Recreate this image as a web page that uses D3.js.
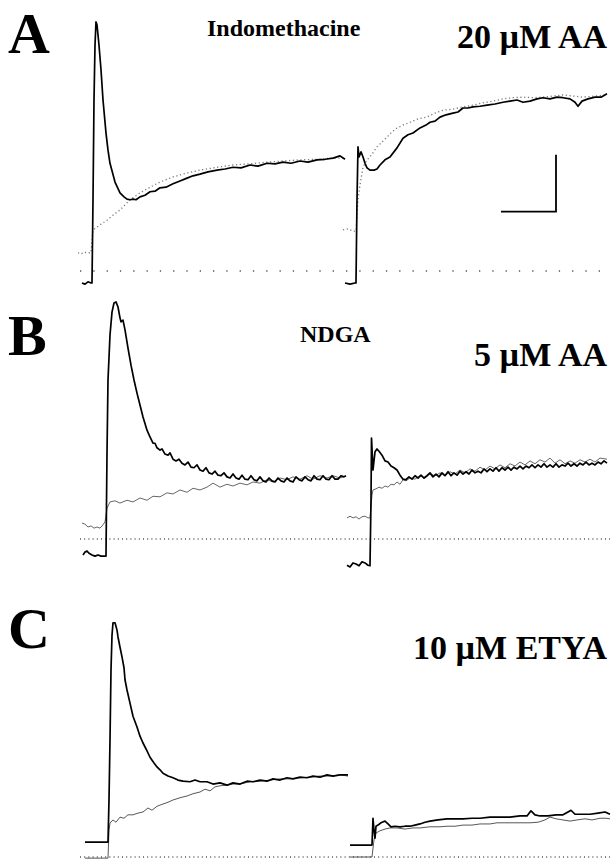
<!DOCTYPE html>
<html>
<head>
<script src="https://cdnjs.cloudflare.com/ajax/libs/d3/7.8.5/d3.min.js"></script>
<style>
  body { margin: 0; background: #fff; }
  svg text { font-family: "Liberation Serif", "Times New Roman", serif; font-weight: bold; fill: #000; }
</style>
</head>
<body>
<svg id="fig" width="612" height="860"></svg>
<script>
// time in s, current in nA (0 = dotted baseline)
var panelLetters = ["A", "B", "C"];
var drugLabels = ["Indomethacine", "NDGA", ""];
var doseLabels = ["20 \u00b5M AA", "5 \u00b5M AA", "10 \u00b5M ETYA"];

// ---- A ----
var aSolidL = [[0.4,-0.21],[1.0,-0.23],[1.6,-0.19],[2.2,-0.21],[2.4,-0.21],[2.6,1.25],[2.8,3.0],[3.0,3.96],[3.2,4.37],[3.4,4.32],[3.8,3.96],[4.2,3.53],[4.6,3.0],[5.2,2.42],[5.6,2.12],[6.0,1.89],[7.0,1.56],[8.0,1.37],[8.8,1.30],[9.4,1.26],[10.0,1.25],[10.6,1.26],[11.2,1.25],[12.0,1.30],[13.0,1.33],[14.0,1.39],[15.0,1.40],[16.0,1.46],[17.2,1.47],[18.6,1.53],[20.0,1.58],[21.4,1.63],[22.6,1.67],[24.0,1.70],[25.6,1.74],[27.4,1.77],[29.0,1.79],[30.6,1.82],[32.2,1.81],[34.0,1.86],[35.6,1.84],[37.4,1.89],[39.0,1.88],[40.6,1.91],[42.2,1.89],[44.0,1.93],[45.6,1.91],[47.4,1.95],[49.0,1.96],[50.6,1.98],[52.0,2.02],[53.0,1.96]];
var aCtrlL = [[-0.4,0.32],[0.2,0.30],[0.8,0.33],[1.6,0.32],[2.2,0.32],[2.4,0.54],[2.6,0.72],[4.0,0.81],[5.4,0.89],[6.6,0.98],[8.0,1.07],[9.0,1.16],[10.0,1.25],[12.0,1.37],[14.0,1.47],[16.0,1.56],[18.6,1.65],[21.4,1.72],[24.0,1.77],[27.4,1.82],[30.6,1.86],[34.0,1.88],[37.4,1.91],[40.6,1.93],[44.0,1.95],[47.4,1.96],[50.6,1.98],[53.0,1.98]];
var aSolidR = [[53.0,-0.21],[54.0,-0.23],[55.0,-0.21],[55.2,-0.21],[55.4,1.25],[55.6,2.18],[55.8,2.0],[56.2,2.09],[56.6,2.0],[57.0,1.89],[57.4,1.81],[58.0,1.77],[58.8,1.77],[59.4,1.79],[60.0,1.86],[61.0,1.95],[62.0,2.0],[63.4,2.16],[64.6,2.33],[65.6,2.39],[66.6,2.42],[68.0,2.51],[69.2,2.56],[70.0,2.61],[71.0,2.63],[72.0,2.70],[73.2,2.74],[74.6,2.77],[75.6,2.79],[76.6,2.86],[77.6,2.86],[78.6,2.88],[80.0,2.89],[81.4,2.91],[83.0,2.93],[84.6,2.96],[86.0,2.98],[87.4,3.0],[88.6,2.96],[90.0,2.98],[91.4,3.02],[92.6,3.04],[94.0,3.02],[95.4,3.05],[96.6,3.04],[98.0,3.02],[99.0,2.96],[99.6,2.89],[100.4,2.98],[101.6,3.02],[103.0,3.05],[104.2,3.05],[105.4,3.11]];
var aCtrlR = [[52.6,0.72],[53.6,0.74],[54.6,0.70],[55.2,0.70],[55.6,1.25],[56.0,1.51],[56.6,1.82],[57.4,1.95],[58.0,2.0],[59.4,2.18],[60.4,2.26],[61.4,2.35],[62.4,2.44],[63.4,2.51],[64.6,2.56],[66.0,2.61],[67.6,2.67],[69.4,2.70],[71.0,2.77],[72.6,2.82],[74.6,2.84],[76.6,2.88],[78.6,2.91],[80.6,2.95],[82.6,2.98],[84.6,3.02],[86.6,3.04],[88.6,3.05],[90.6,3.04],[92.6,3.05],[94.6,3.07],[96.6,3.09],[98.6,3.07],[100.6,3.05],[103.0,3.07],[105.4,3.09]];

// ---- B ----
var bSolidL = [[0.6,-0.28],[1.0,-0.23],[1.4,-0.21],[1.8,-0.25],[2.4,-0.28],[3.0,-0.30],[3.6,-0.28],[4.2,-0.30],[4.8,-0.30],[5.2,-0.30],[5.4,1.51],[5.6,2.79],[6.0,3.58],[6.4,3.98],[6.8,4.14],[7.2,4.16],[7.6,4.07],[8.0,3.88],[8.2,3.81],[8.6,3.84],[9.0,3.67],[9.6,3.35],[10.2,3.05],[10.8,2.79],[11.4,2.56],[12.0,2.35],[12.6,2.14],[13.4,1.91],[14.0,1.79],[14.6,1.68],[15.0,1.68],[15.4,1.60],[16.0,1.56],[16.4,1.58],[17.0,1.49],[17.6,1.47],[18.0,1.51],[18.6,1.40],[19.2,1.37],[19.8,1.40],[20.4,1.33],[21.0,1.30],[21.6,1.35],[22.2,1.26],[22.8,1.25],[23.4,1.30],[24.0,1.21],[24.6,1.19],[25.2,1.25],[25.8,1.16],[26.4,1.14],[27.0,1.19],[27.6,1.12],[28.2,1.11],[28.8,1.16],[29.4,1.09],[30.0,1.07],[30.6,1.14],[31.2,1.07],[31.8,1.05],[32.4,1.12],[33.0,1.05],[33.6,1.04],[34.2,1.11],[34.8,1.04],[35.4,1.02],[36.0,1.09],[36.6,1.02],[37.2,1.0],[37.8,1.07],[38.4,1.02],[39.0,1.0],[39.6,1.07],[40.2,1.02],[40.8,1.0],[41.4,1.07],[42.0,1.02],[42.6,1.0],[43.2,1.09],[43.8,1.04],[44.4,1.02],[45.0,1.09],[45.6,1.04],[46.2,1.02],[46.8,1.11],[47.4,1.05],[48.0,1.04],[48.6,1.11],[49.2,1.05],[49.8,1.04],[50.4,1.11],[51.0,1.05],[51.6,1.05],[52.2,1.11],[52.8,1.09],[53.2,1.11]];
var bCtrlL = [[0.4,0.28],[1.0,0.26],[1.6,0.21],[2.2,0.23],[2.8,0.19],[3.4,0.21],[4.0,0.19],[4.6,0.25],[5.0,0.30],[5.4,0.54],[6.0,0.65],[7.0,0.67],[8.0,0.63],[9.4,0.68],[10.6,0.65],[12.0,0.72],[13.4,0.68],[14.6,0.75],[16.0,0.74],[17.4,0.81],[18.6,0.79],[20.0,0.86],[21.4,0.82],[22.6,0.89],[24.0,0.86],[25.4,0.91],[26.6,0.98],[28.0,0.91],[29.4,0.96],[30.6,0.93],[32.0,0.98],[33.4,0.95],[34.6,1.0],[36.0,0.98],[37.4,1.04],[38.6,1.0],[40.0,1.07],[41.4,1.04],[42.6,1.09],[44.0,1.05],[45.4,1.11],[46.6,1.05],[48.0,1.11],[49.4,1.07],[50.6,1.11],[52.0,1.07],[53.2,1.11]];
var bSolidR = [[53.4,-0.46],[54.0,-0.49],[54.6,-0.42],[55.2,-0.44],[55.8,-0.47],[56.4,-0.40],[57.0,-0.42],[57.6,-0.46],[58.0,-0.47],[58.2,0.68],[58.3,1.77],[58.6,1.21],[59.0,1.53],[59.4,1.58],[59.8,1.54],[60.4,1.47],[61.0,1.37],[61.6,1.35],[62.2,1.28],[62.8,1.25],[63.4,1.21],[64.0,1.12],[64.6,1.05],[65.2,1.04],[65.8,1.09],[66.4,1.05],[67.0,1.11],[67.6,1.07],[68.2,1.12],[68.8,1.07],[69.4,1.11],[70.0,1.16],[70.6,1.09],[71.2,1.14],[71.8,1.09],[72.4,1.16],[73.0,1.11],[73.6,1.18],[74.2,1.11],[74.8,1.16],[75.4,1.12],[76.0,1.19],[76.6,1.14],[77.2,1.18],[77.8,1.14],[78.4,1.21],[79.0,1.16],[79.6,1.19],[80.2,1.16],[80.8,1.23],[81.4,1.18],[82.0,1.23],[82.6,1.19],[83.2,1.25],[83.8,1.19],[84.4,1.25],[85.0,1.21],[85.6,1.26],[86.2,1.21],[86.8,1.26],[87.4,1.23],[88.0,1.28],[88.6,1.23],[89.2,1.28],[89.8,1.25],[90.4,1.30],[91.0,1.25],[91.6,1.30],[92.2,1.26],[92.8,1.32],[93.4,1.26],[94.0,1.30],[94.6,1.26],[95.2,1.32],[95.8,1.26],[96.4,1.30],[97.0,1.28],[97.6,1.33],[98.2,1.28],[98.8,1.32],[99.4,1.28],[100.0,1.33],[100.6,1.30],[101.2,1.35],[101.8,1.30],[102.4,1.33],[103.0,1.30],[103.6,1.35],[104.2,1.32],[104.8,1.37],[105.4,1.33]];
var bCtrlR = [[53.4,0.37],[54.0,0.40],[54.6,0.37],[55.2,0.39],[55.8,0.35],[56.4,0.39],[57.0,0.40],[57.6,0.37],[58.0,0.37],[58.4,0.77],[58.6,0.86],[59.2,0.88],[59.8,0.91],[60.4,0.89],[61.0,0.93],[61.6,0.91],[62.2,0.96],[62.8,0.95],[63.4,1.0],[64.0,0.96],[64.6,1.04],[65.2,1.02],[66.0,1.07],[67.0,1.05],[68.0,1.11],[69.0,1.07],[70.0,1.14],[71.0,1.11],[72.0,1.16],[73.0,1.11],[74.0,1.18],[75.0,1.14],[76.0,1.21],[77.0,1.16],[78.0,1.23],[79.0,1.19],[80.0,1.26],[81.0,1.21],[82.0,1.28],[83.0,1.23],[84.0,1.30],[85.0,1.25],[86.0,1.32],[87.0,1.28],[88.0,1.35],[89.0,1.30],[90.0,1.37],[91.0,1.32],[92.0,1.39],[93.0,1.35],[94.0,1.42],[95.0,1.33],[96.0,1.39],[97.0,1.32],[98.0,1.37],[99.0,1.33],[100.0,1.39],[101.0,1.35],[102.0,1.40],[103.0,1.35],[104.0,1.42],[105.4,1.40]];

// ---- C ----
var cSolidL = [[1.0,0.26],[5.6,0.26],[5.8,1.0],[6.0,2.05],[6.2,3.28],[6.4,3.89],[6.6,4.11],[7.0,4.11],[7.4,3.98],[7.6,3.86],[8.0,3.68],[8.4,3.51],[8.8,3.32],[9.0,3.11],[9.4,2.93],[10.0,2.70],[10.6,2.47],[11.4,2.28],[12.0,2.12],[12.6,2.0],[13.4,1.86],[14.0,1.75],[14.8,1.65],[15.4,1.58],[16.0,1.53],[16.6,1.47],[17.6,1.42],[18.6,1.39],[19.6,1.35],[20.6,1.33],[22.0,1.32],[23.0,1.35],[24.0,1.32],[25.4,1.32],[26.6,1.28],[28.0,1.30],[29.4,1.26],[30.6,1.30],[32.0,1.28],[33.4,1.33],[34.6,1.32],[36.0,1.35],[37.4,1.33],[38.6,1.37],[40.0,1.35],[41.4,1.39],[42.6,1.37],[44.0,1.40],[45.4,1.39],[46.6,1.42],[48.0,1.40],[49.4,1.44],[50.6,1.42],[52.0,1.44],[53.6,1.44]];
var cCtrlL = [[1.0,-0.02],[5.6,-0.02],[5.8,0.47],[6.0,0.60],[6.6,0.65],[7.2,0.61],[8.0,0.70],[8.8,0.68],[9.6,0.74],[10.6,0.74],[11.6,0.77],[12.6,0.79],[13.6,0.86],[14.4,0.82],[15.4,0.89],[16.6,0.93],[17.6,0.96],[18.6,1.0],[20.0,1.04],[21.4,1.07],[22.6,1.11],[24.0,1.14],[25.0,1.19],[26.0,1.16],[27.0,1.23],[28.0,1.25],[29.4,1.26],[30.6,1.28],[32.0,1.28],[34.0,1.32],[36.0,1.33],[38.0,1.35],[40.0,1.37],[42.0,1.37],[44.0,1.39],[46.0,1.40],[48.0,1.42],[50.0,1.42],[52.0,1.44],[53.6,1.42]];
var cSolidR = [[54.0,0.21],[58.4,0.21],[58.6,0.68],[58.8,0.47],[59.0,0.33],[59.2,0.54],[59.6,0.56],[60.2,0.60],[61.0,0.63],[61.6,0.58],[62.2,0.53],[63.0,0.54],[64.0,0.53],[65.0,0.54],[66.0,0.54],[67.0,0.56],[68.0,0.58],[69.0,0.61],[70.0,0.63],[71.6,0.65],[73.4,0.67],[75.0,0.67],[76.6,0.67],[78.4,0.68],[80.0,0.68],[82.0,0.70],[84.0,0.70],[86.0,0.70],[88.0,0.72],[89.4,0.72],[90.2,0.81],[91.0,0.74],[92.0,0.72],[93.6,0.72],[95.2,0.74],[96.6,0.74],[97.6,0.79],[98.2,0.82],[99.0,0.75],[100.4,0.75],[102.0,0.75],[103.6,0.77],[105.0,0.79],[106.0,0.75]];
var cCtrlR = [[54.0,0.0],[58.4,0.0],[58.8,0.30],[59.2,0.42],[60.0,0.46],[61.0,0.49],[62.0,0.51],[63.4,0.51],[65.0,0.49],[66.6,0.51],[68.0,0.51],[70.0,0.53],[72.0,0.53],[73.4,0.54],[75.0,0.54],[76.6,0.56],[78.4,0.56],[80.0,0.58],[82.0,0.58],[83.4,0.60],[85.0,0.60],[86.6,0.60],[88.4,0.60],[90.0,0.60],[91.6,0.61],[93.0,0.65],[94.0,0.70],[95.2,0.67],[96.6,0.65],[98.0,0.63],[99.4,0.65],[101.0,0.67],[102.4,0.65],[104.0,0.68],[105.2,0.68],[106.0,0.67]];

// scale bar: 1 nA x 11 s
var scaleBarNA = 1;
var scaleBarS = 11;

var svg = d3.select("#fig");
var x = d3.scaleLinear().domain([0, 106]).range([80, 610]);

var panels = [
  { base: 271, ctrl: [aCtrlL, aCtrlR], test: [aSolidL, aSolidR], ctrlDash: "1.2,2.6", baseDash: "1.3,12", ctrlColor: "#777", ctrlW: 1.3,
    letterY: 53, drugX: 207, drugY: 36, doseY: 48 },
  { base: 539, ctrl: [bCtrlL, bCtrlR], test: [bSolidL, bSolidR], ctrlDash: null, baseDash: "1,3.2", ctrlColor: "#555", ctrlW: 0.9,
    letterY: 355, drugX: 300, drugY: 342, doseY: 366 },
  { base: 857, ctrl: [cCtrlL, cCtrlR], test: [cSolidL, cSolidR], ctrlDash: null, baseDash: "1,3.2", ctrlColor: "#444", ctrlW: 0.9,
    letterY: 648, drugX: 0, drugY: 0, doseY: 659 }
];

panels.forEach(function(p, i) {
  var y = d3.scaleLinear().domain([0, 1]).range([p.base, p.base - 57]);
  var line = d3.line().x(function(d) { return x(d[0]); }).y(function(d) { return y(d[1]); });
  var g = svg.append("g");

  // baseline
  g.append("line")
    .attr("x1", x(0)).attr("x2", x(106))
    .attr("y1", y(0)).attr("y2", y(0))
    .attr("stroke", "#000").attr("stroke-width", 1)
    .attr("stroke-dasharray", p.baseDash);

  // control traces
  p.ctrl.forEach(function(tr) {
    g.append("path").attr("d", line(tr))
      .attr("fill", "none").attr("stroke", p.ctrlColor)
      .attr("stroke-width", p.ctrlW)
      .attr("stroke-dasharray", p.ctrlDash);
  });

  // test traces
  p.test.forEach(function(tr) {
    g.append("path").attr("d", line(tr))
      .attr("fill", "none").attr("stroke", "#000")
      .attr("stroke-width", 1.7).attr("stroke-linejoin", "round");
  });

  g.append("text").attr("x", 8).attr("y", p.letterY)
    .style("font-size", "58px").text(panelLetters[i]);
  if (drugLabels[i]) {
    g.append("text").attr("x", p.drugX).attr("y", p.drugY)
      .style("font-size", "24px").text(drugLabels[i]);
  }
  g.append("text").attr("x", 607).attr("y", p.doseY)
    .attr("text-anchor", "end")
    .style("font-size", "34px").text(doseLabels[i]);

  if (i === 0) {
    var t1 = 95.2, v0 = 1.04;
    svg.append("path")
      .attr("d", "M" + x(t1 - scaleBarS) + "," + y(v0) + "H" + x(t1) + "V" + y(v0 + scaleBarNA))
      .attr("fill", "none").attr("stroke", "#000").attr("stroke-width", 1.8);
  }
});
</script>
</body>
</html>
